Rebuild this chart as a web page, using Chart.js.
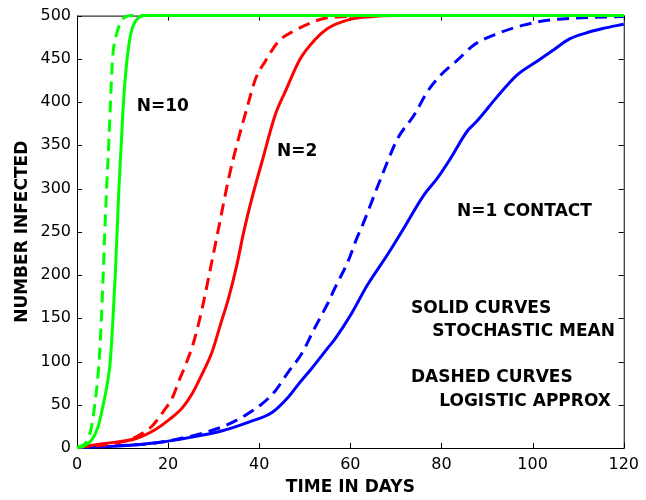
<!DOCTYPE html>
<html>
<head>
<meta charset="utf-8">
<script src="https://cdn.jsdelivr.net/npm/chart.js@4.4.1/dist/chart.umd.min.js"></script>
<style>
  html, body { margin: 0; padding: 0; background: #fff; }
  #wrap { width: 646px; height: 500px; position: relative; }
</style>
</head>
<body>
<div id="wrap"><canvas id="infectedChart"></canvas></div>
<script>
// Axis ticks
const dayTicks = [0, 20, 40, 60, 80, 100, 120];
const countTicks = [0, 50, 100, 150, 200, 250, 300, 350, 400, 450, 500];

// N=10 contacts: stochastic mean (solid) and logistic approx (dashed)
const meanDays10 = [0, 1.4, 3.2, 4.6, 5.75, 6.5, 7.3, 7.9, 8.4, 8.8, 9.2, 9.7, 10.2, 11.0, 11.9, 13.4, 15.2, 120];
const meanVals10 = [0.5, 2, 9, 24, 50, 70, 100, 150, 200, 250, 300, 350, 400, 450, 481, 497, 500, 500];
const logDays10 = [0, 1.0, 1.75, 3.0, 3.9, 4.85, 5.35, 5.75, 6.1, 6.5, 6.95, 7.35, 7.8, 8.6, 9.7, 10.5, 12, 120];
const logVals10 = [1, 2.5, 5, 20, 50, 100, 150, 200, 250, 300, 350, 400, 450, 477, 493, 498, 500, 500];

// N=2 contacts
const meanDays2 = [0, 5.7, 13, 17.4, 20.3, 23.2, 25.3, 27.5, 29.7, 31.5, 33.3, 35.1, 36.6, 38.4, 40.6, 43.5, 45.7, 49, 52.2, 55, 59.5, 63.8, 70, 120];
const meanVals2 = [0.5, 5, 11, 22, 33, 47, 63, 86, 112, 143, 174, 212, 250, 289, 331, 385, 412, 450, 472, 485, 495, 498.5, 500, 500];
const logDays2 = [0, 8, 12.3, 15.2, 16.6, 18.8, 21, 22.4, 23.9, 25.7, 27.5, 29.3, 31, 33.3, 35.1, 37.3, 39.2, 41.3, 44.2, 47.9, 51.5, 54.4, 59.5, 63, 120];
const logVals2 = [1, 5, 11, 20, 26, 41, 59, 78, 97, 124, 162, 208, 252, 312, 351, 393, 427, 447, 470, 483, 492, 497, 499, 500, 500];

// N=1 contact
const meanDays1 = [0, 10, 17.4, 24.6, 31.9, 37.7, 42.8, 46.4, 48.8, 51.5, 55.1, 56.6, 60.2, 63.8, 68.2, 71.6, 76.2, 79.1, 82, 85.6, 87.8, 92.2, 96.5, 100.9, 104.5, 108.1, 111.8, 115.4, 120];
const meanVals1 = [0.5, 2.5, 6, 12, 20, 30, 41, 59, 75, 92, 116, 126, 155, 189, 224, 253, 293, 312, 335, 366, 378, 406, 431, 447, 460, 473, 480, 485, 490];
const logDays1 = [0, 10, 15.9, 21.7, 27.5, 32.6, 37, 40.6, 43.5, 46.4, 49.3, 52.2, 55.1, 56.6, 59.5, 61.3, 62.7, 66.7, 70.4, 74, 76.9, 79.8, 83.6, 87.1, 92.2, 98, 103.8, 108.9, 120];
const logVals1 = [1, 3, 5, 10, 17, 26, 38, 51, 66, 88, 109, 139, 168, 185, 216, 241, 258, 312, 358, 385, 412, 431, 449, 466, 479, 489, 495, 497, 499];

// Text notes placed in data coordinates (day, count at baseline)
const noteTexts = ['N=10', 'N=2', 'N=1 CONTACT', 'SOLID CURVES', 'STOCHASTIC MEAN', 'DASHED CURVES', 'LOGISTIC APPROX'];
const noteDays = [13.1, 43.9, 83.4, 73.3, 78.0, 73.3, 79.5];
const noteCounts = [390, 338, 268, 156, 130, 76, 49];

const FONT = '"DejaVu Sans", sans-serif';

function toPoints(days, vals) {
    return days.map((d, i) => ({x: d, y: vals[i]}));
}

function curve(days, vals, color, dashed) {
    return {
        data: toPoints(days, vals),
        borderColor: color,
        borderWidth: 3,
        borderDash: dashed ? [12, 7] : [],
        pointRadius: 0,
        cubicInterpolationMode: 'monotone',
        fill: false,
        clip: false
    };
}

// Box around the plot with inward tick marks on all four sides
const boxTicks = {
    id: 'boxTicks',
    beforeDatasetsDraw(chart) {
        const {ctx, chartArea: a, scales: {x, y}} = chart;
        ctx.save();
        ctx.strokeStyle = '#000';
        ctx.lineWidth = 1;
        ctx.strokeRect(a.left + 0.5, a.top + 0.5, a.right - a.left, a.bottom - a.top);
        ctx.beginPath();
        dayTicks.forEach(t => {
            const px = Math.round(x.getPixelForValue(t)) + 0.5;
            ctx.moveTo(px, a.bottom); ctx.lineTo(px, a.bottom - 5);
            ctx.moveTo(px, a.top); ctx.lineTo(px, a.top + 5);
        });
        countTicks.forEach(t => {
            const py = Math.round(y.getPixelForValue(t)) + 0.5;
            ctx.moveTo(a.left, py); ctx.lineTo(a.left + 5, py);
            ctx.moveTo(a.right, py); ctx.lineTo(a.right - 5, py);
        });
        ctx.stroke();
        ctx.restore();
    },
    afterDatasetsDraw(chart) {
        const {ctx, scales: {x, y}} = chart;
        ctx.save();
        ctx.fillStyle = '#000';
        ctx.font = 'bold 17px ' + FONT;
        ctx.textAlign = 'left';
        ctx.textBaseline = 'alphabetic';
        noteTexts.forEach((t, i) => {
            ctx.fillText(t, x.getPixelForValue(noteDays[i]), y.getPixelForValue(noteCounts[i]));
        });
        ctx.restore();
    }
};

const ctx = document.getElementById('infectedChart').getContext('2d');
const chart = new Chart(ctx, {
    type: 'line',
    data: {
        datasets: [
            curve(meanDays10, meanVals10, '#00ff00', false),
            curve(logDays10, logVals10, '#00ff00', true),
            curve(meanDays2, meanVals2, '#ff0000', false),
            curve(logDays2, logVals2, '#ff0000', true),
            curve(meanDays1, meanVals1, '#0000ff', false),
            curve(logDays1, logVals1, '#0000ff', true)
        ]
    },
    options: {
        responsive: true,
        maintainAspectRatio: false,
        animation: false,
        devicePixelRatio: 1,
        layout: {
            padding: {left: 0, right: 18, top: 13, bottom: 0}
        },
        plugins: {
            legend: {display: false},
            tooltip: {enabled: false}
        },
        scales: {
            x: {
                type: 'linear',
                min: 0,
                max: 120,
                afterFit: s => { s.height = 52; },
                grid: {display: false, drawTicks: false},
                border: {display: false},
                ticks: {
                    stepSize: 20,
                    autoSkip: false,
                    maxRotation: 0,
                    padding: 7,
                    color: '#000',
                    font: {family: FONT, size: 16}
                },
                title: {
                    display: true,
                    text: 'TIME IN DAYS',
                    color: '#000',
                    padding: {top: 0, bottom: 2},
                    font: {family: FONT, size: 17, weight: 'bold'}
                }
            },
            y: {
                type: 'linear',
                min: 0,
                max: 500,
                afterFit: s => { s.width = 77; },
                grid: {display: false, drawTicks: false},
                border: {display: false},
                ticks: {
                    stepSize: 50,
                    autoSkip: false,
                    padding: 6,
                    color: '#000',
                    font: {family: FONT, size: 16}
                },
                title: {
                    display: true,
                    text: 'NUMBER INFECTED',
                    color: '#000',
                    padding: {top: 12, bottom: 0},
                    font: {family: FONT, size: 17, weight: 'bold'}
                }
            }
        }
    },
    plugins: [boxTicks]
});
</script>
</body>
</html>
